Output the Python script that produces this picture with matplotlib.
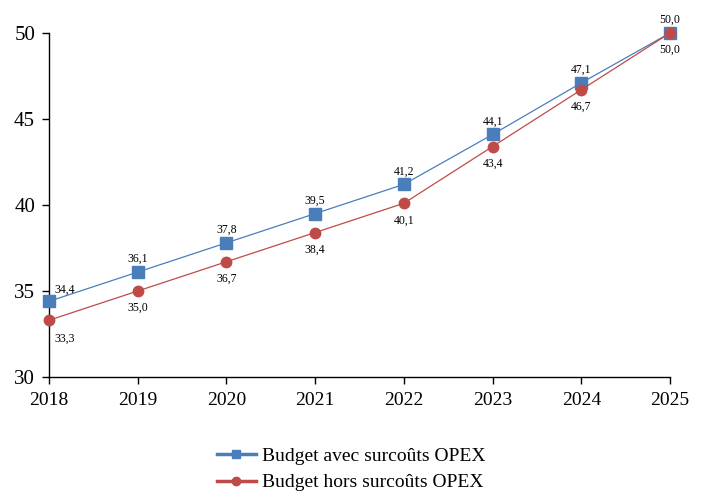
import matplotlib
matplotlib.use("Agg")
import matplotlib.pyplot as plt

years = [2018, 2019, 2020, 2021, 2022, 2023, 2024, 2025]
avec = [34.4, 36.1, 37.8, 39.5, 41.2, 44.1, 47.1, 50.0]
hors = [33.3, 35.0, 36.7, 38.4, 40.1, 43.4, 46.7, 50.0]
label_avec = "Budget avec surcoûts OPEX"
label_hors = "Budget hors surcoûts OPEX"

plt.rcParams['font.family'] = ['Liberation Serif', 'DejaVu Serif']

fig = plt.figure(figsize=(7.02, 5.03), dpi=100)
ax = fig.add_axes([49/702, 1-377/503, (670-49)/702, (377-33)/503])

blue = '#4A7EBB'
red = '#BE4B48'
ax.plot(years, avec, color=blue, lw=0.9, marker='s', ms=8, label=label_avec, clip_on=False, zorder=3)
ax.plot(years, hors, color=red, lw=0.9, marker='o', ms=7.5, label=label_hors, clip_on=False, zorder=4)

def fmt(v):
    return f"{v:.1f}".replace('.', ',')

for i, (x, v) in enumerate(zip(years, avec)):
    if i == 0:
        ax.annotate(fmt(v), (x, v), xytext=(4, 4), textcoords='offset points', fontsize=8.5, ha='left', va='bottom')
    else:
        ax.annotate(fmt(v), (x, v), xytext=(0, 5), textcoords='offset points', fontsize=8.5, ha='center', va='bottom')
for i, (x, v) in enumerate(zip(years, hors)):
    if i == 0:
        ax.annotate(fmt(v), (x, v), xytext=(4, -9), textcoords='offset points', fontsize=8.5, ha='left', va='top')
    else:
        ax.annotate(fmt(v), (x, v), xytext=(0, -8), textcoords='offset points', fontsize=8.5, ha='center', va='top')

ax.set_xlim(2018, 2025)
ax.set_ylim(30, 50)
ax.set_xticks(years)
ax.set_yticks([30, 35, 40, 45, 50])
ax.tick_params(axis='y', labelsize=15, length=5, width=1, direction='out', pad=5)
ax.tick_params(axis='x', labelsize=14, length=5, width=1, direction='out', pad=6)
for s in ['top', 'right']:
    ax.spines[s].set_visible(False)
for s in ['left', 'bottom']:
    ax.spines[s].set_linewidth(1)

leg = fig.legend(loc='upper center', bbox_to_anchor=(0.5, 1-430/503), ncol=1, frameon=False,
                 fontsize=14, handlelength=2.0, handletextpad=0.3, labelspacing=0.45, markerscale=0.8)
for h in leg.legend_handles:
    h.set_linewidth(2.5)

fig.savefig('out.png', dpi=100)
